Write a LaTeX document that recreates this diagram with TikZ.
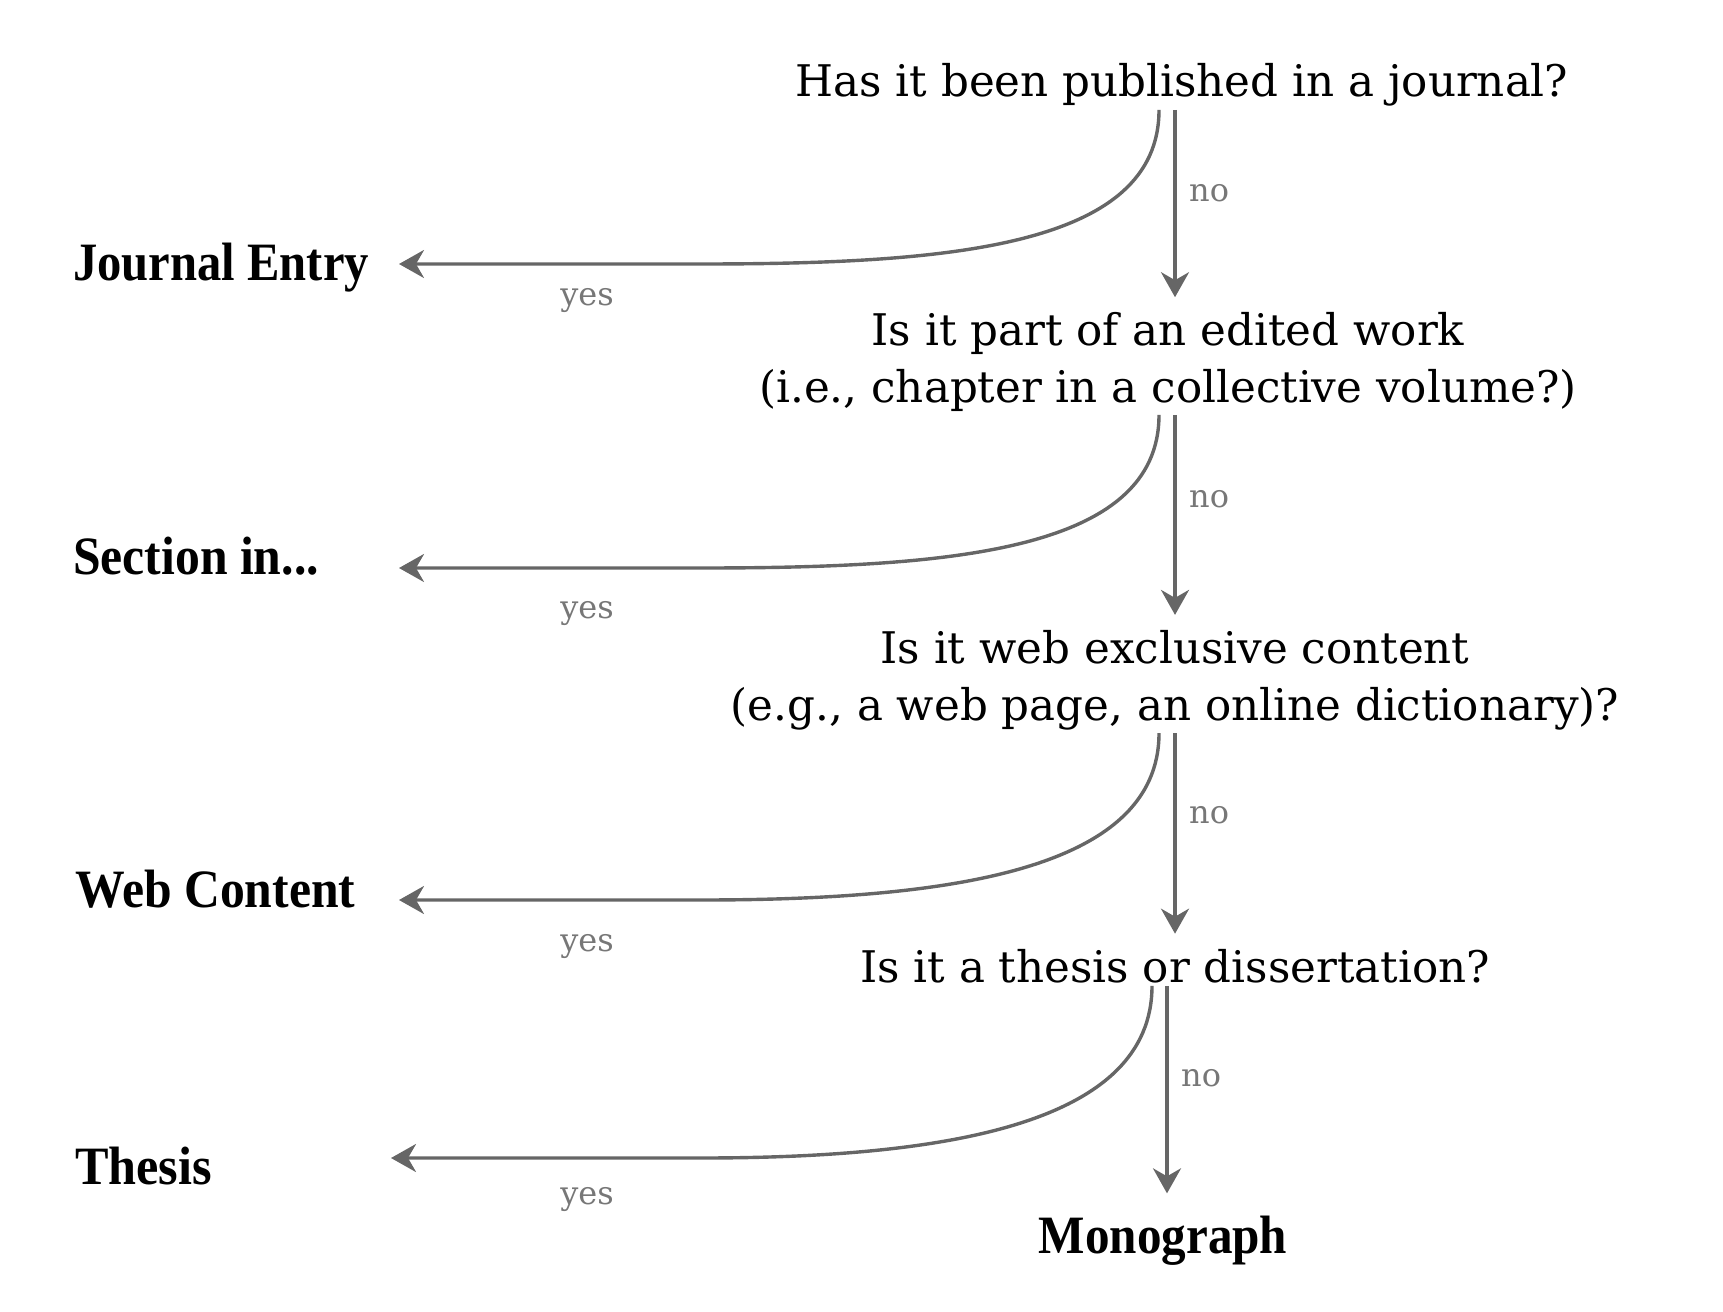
\documentclass[tikz,border=0pt]{standalone}
\usepackage{fontspec}
\newfontfamily\qfont{DejaVu Serif}
\newfontfamily\ofont{Liberation Serif}
\usetikzlibrary{arrows.meta}
\definecolor{arr}{HTML}{666666}
\definecolor{lab}{HTML}{777777}
\begin{document}
\begin{tikzpicture}[x=1pt,y=-1pt,
  question/.style={font=\qfont\fontsize{43.6}{57}\selectfont, align=center, inner sep=0pt},
  outcome/.style={font=\ofont\bfseries\fontsize{54}{60}\selectfont, inner sep=0pt},
  ans/.style={font=\qfont\fontsize{32}{36}\selectfont, text=lab, inner sep=0pt},
  conn/.style={draw=arr, line width=3.4pt, -{Stealth[length=25pt,width=28pt,inset=8pt]}},
  noarrow/.style={conn, shorten <=3pt, shorten >=15pt},
  yesarrow/.style={conn, shorten <=3pt}]
\useasboundingbox (0,0) rectangle (1723,1311);
% columns
\coordinate (colY) at (1159,0);
\coordinate (colN) at (1175,0);
\coordinate (colY4) at (1152,0);
\coordinate (colN4) at (1167,0);
% questions
\node[question, anchor=base] (q1) at (1182,97) {Has it been published in a journal?};
\node[question] (q2) at (1168,362) {Is it part of an edited work\\(i.e., chapter in a collective volume?)};
\node[question] (q3) at (1175,680) {Is it web exclusive content\\(e.g., a web page, an online dictionary)?};
\node[question, anchor=base] (q4) at (1175,982) {Is it a thesis or dissertation?};
% outcomes
\node[outcome, anchor=base west] (je) at (73,280) {\scalebox{0.9}[1]{Journal Entry}};
\node[outcome, anchor=base west] (si) at (73,574) {\scalebox{0.92}[1]{Section in...}};
\node[outcome, anchor=base west] (wc) at (75,907) {\scalebox{0.92}[1]{Web Content}};
\node[outcome, anchor=base west] (th) at (75,1184) {\scalebox{0.93}[1]{Thesis}};
\node[outcome, anchor=base] (mo) at (1163,1253) {\scalebox{0.91}[1]{Monograph}};
% yes-arrow end points
\coordinate (e1) at (399,264);
\coordinate (e2) at (399,568);
\coordinate (e3) at (399,900);
\coordinate (e4) at (391,1158);
% no arrows
\draw[noarrow] (q1.south -| colN) -- (q2.north -| colN);
\draw[noarrow] (q2.south -| colN) -- (q3.north -| colN);
\draw[noarrow] (q3.south -| colN) -- (q4.north -| colN);
\draw[noarrow, shorten >=22pt] (q4.south -| colN4) -- (mo.north -| colN4);
% yes arrows
\draw[yesarrow] (q1.south -| colY) .. controls +(0,140) and +(250,0) .. (e1 -| 700,0) -- (e1);
\draw[yesarrow] (q2.south -| colY) .. controls +(0,140) and +(250,0) .. (e2 -| 700,0) -- (e2);
\draw[yesarrow] (q3.south -| colY) .. controls +(0,140) and +(250,0) .. (e3 -| 700,0) -- (e3);
\draw[yesarrow] (q4.south -| colY4) .. controls +(0,140) and +(250,0) .. (e4 -| 700,0) -- (e4);
% labels
\node[ans, anchor=base west] (n1) at (1189,201) {no};
\node[ans, anchor=base west] (n2) at (1189,507) {no};
\node[ans, anchor=base west] (n3) at (1189,823) {no};
\node[ans, anchor=base west] (n4) at (1181,1086) {no};
\node[ans, anchor=base] (y1) at (587,305) {yes};
\node[ans, anchor=base] (y2) at (587,618) {yes};
\node[ans, anchor=base] (y3) at (587,951) {yes};
\node[ans, anchor=base] (y4) at (587,1204) {yes};
\end{tikzpicture}
\end{document}
